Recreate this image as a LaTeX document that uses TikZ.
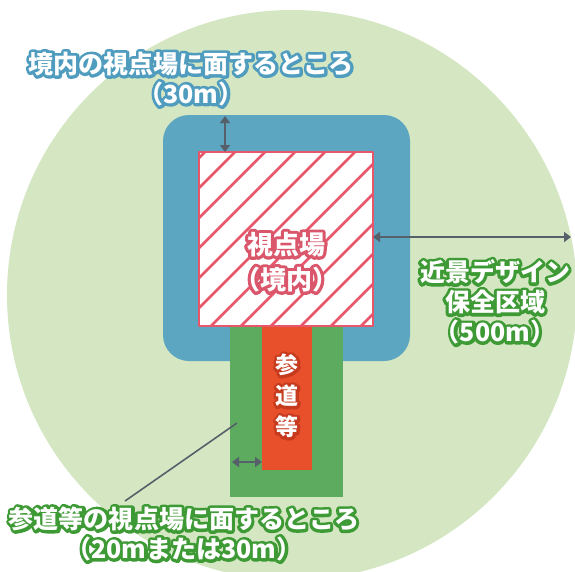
\documentclass[tikz,border=0pt]{standalone}
\usepackage{fontspec}
\newfontfamily\jp{Noto Sans CJK JP}
\usetikzlibrary{arrows.meta}
\definecolor{zone}{HTML}{D4E7C2}
\definecolor{precinct}{HTML}{5CA6C1}
\definecolor{hatchpink}{HTML}{E8566B}
\definecolor{pathgreen}{HTML}{5DAB5E}
\definecolor{pathred}{HTML}{E8502C}
\definecolor{arrowgray}{HTML}{56606A}
\definecolor{olblue}{HTML}{4F9CBF}
\definecolor{olgreen}{HTML}{3D9A34}
\definecolor{olpink}{HTML}{D9566B}
\definecolor{olred}{HTML}{C63A1E}
\tikzset{
  box/.style={inner sep=0pt, outer sep=0pt},
  dimarrow/.style={draw=arrowgray, line width=2pt,
    {Triangle[length=7pt,width=10pt]}-{Triangle[length=7pt,width=10pt]}},
  lbl/.style={inner sep=0pt, align=center},
  bigtext/.style={font=\jp\bfseries\fontsize{25}{30}\selectfont},
  bigline/.style={font=\jp\bfseries\fontsize{25}{30}\selectfont\addfontfeature{FakeBold=24}},
  vptext/.style={font=\jp\bfseries\fontsize{26}{35}\selectfont},
  vpline/.style={font=\jp\bfseries\fontsize{26}{35}\selectfont\addfontfeature{FakeBold=24}},
  aptext/.style={font=\jp\bfseries\fontsize{23}{31}\selectfont},
  apline/.style={font=\jp\bfseries\fontsize{23}{31}\selectfont\addfontfeature{FakeBold=24}}
}
\tikzset{hatchline/.style={draw=hatchpink, line width=2.6pt}}
% outlined text: a stroked (fake-bold) copy in the outline colour, white text on top
\newcommand\olabel[6]{%
  \node[lbl,#5,text=#3] at (#2) {#6};
  \node[lbl,#4,text=white] (#1) at (#2) {#6};
}
\begin{document}
\begin{tikzpicture}[x=1pt,y=-1pt,line join=round]
\useasboundingbox (0,0) rectangle (575,571);
\fill[white] (0,0) rectangle (575,571);
% near-view design conservation zone
\fill[zone] (292,295) circle[radius=285];
% precinct buffer
\node[box, fill=precinct, rounded corners=26pt, minimum width=247pt, minimum height=246pt] (buffer) at (286.5,238) {};
% approach buffer
\node[box, fill=pathgreen, minimum width=113pt, minimum height=177pt] (approachbuf) at (286.5,408.5) {};
% approach
\node[box, fill=pathred, minimum width=50pt, minimum height=146pt] (approach) at (287,397) {};
% viewpoint (precinct) hatched square
\node[box, fill=white, minimum width=174pt, minimum height=174pt] (hatch) at (286,239) {};
\begin{scope}
  \clip (hatch.south west) rectangle (hatch.north east);
  \foreach \k in {0,...,11}{
    \pgfmathsetmacro\c{357+30*\k}
    \draw[hatchline] (\c-100,100) -- (\c-420,420);
  }
\end{scope}
\draw[hatchpink, line width=2.4pt] (hatch.south west) rectangle (hatch.north east);
% dimension arrows
\coordinate (topA) at (225,116);
\coordinate (topB) at (225,152);
\draw[dimarrow] (topA) -- (topB);
\coordinate (rightB) at (571,237);
\draw[dimarrow] (hatch.east |- rightB) -- (rightB);
\coordinate (pathA) at (232,462);
\draw[dimarrow] (pathA) -- (approach.west |- pathA);
% leader line
\coordinate (leadA) at (125,501);
\coordinate (leadB) at (237,423);
\draw[arrowgray, line width=1.6pt] (leadA) -- (leadB);
% labels
\olabel{vp}{286,262}{olpink}{vptext}{vpline}{視点場\\（境内）}
\olabel{app}{287,396}{olred}{aptext}{apline}{参\\道\\等}
\olabel{l1}{191,79}{olblue}{bigtext}{bigline}{境内の視点場に面するところ\\（30m）}
\olabel{l2}{495,302}{olgreen}{bigtext}{bigline}{近景デザイン\\保全区域\\（500m）}
\olabel{l3}{184,534}{olgreen}{bigtext}{bigline}{参道等の視点場に面するところ\\（20mまたは30m）}
\end{tikzpicture}
\end{document}
